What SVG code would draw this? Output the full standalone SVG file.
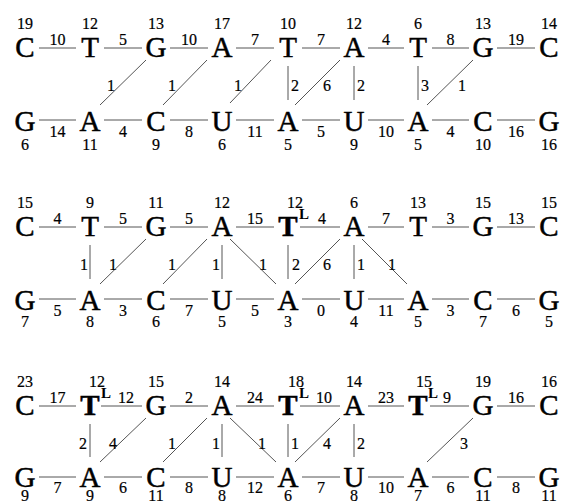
<svg xmlns="http://www.w3.org/2000/svg" width="564" height="504" viewBox="0 0 564 504">
<style>
text{font-family:"Liberation Serif","Times New Roman",serif;fill:#000;text-anchor:middle}
.b{font-size:29px;stroke:#000;stroke-width:0.5}
.bb{font-size:29px;font-weight:bold;stroke:#000;stroke-width:0.5}
.n{font-size:16px;stroke:#000;stroke-width:0.2}
.s{font-size:15px;font-weight:bold}
.e line{stroke:#555;stroke-width:1}
</style>
<rect width="564" height="504" fill="#fff"/>
<g id="p1-top">
<g id="p1-t1"><text class="n" x="25" y="29">19</text><text class="b" x="25" y="57">C</text></g>
<g id="p1-t2"><text class="n" x="90" y="29">12</text><text class="b" x="90" y="57">T</text></g>
<g id="p1-t3"><text class="n" x="156" y="29">13</text><text class="b" x="156" y="57">G</text></g>
<g id="p1-t4"><text class="n" x="222" y="29">17</text><text class="b" x="222" y="57">A</text></g>
<g id="p1-t5"><text class="n" x="288" y="29">10</text><text class="b" x="288" y="57">T</text></g>
<g id="p1-t6"><text class="n" x="354" y="29">12</text><text class="b" x="354" y="57">A</text></g>
<g id="p1-t7"><text class="n" x="418" y="29">6</text><text class="b" x="418" y="57">T</text></g>
<g id="p1-t8"><text class="n" x="483" y="29">13</text><text class="b" x="483" y="57">G</text></g>
<g id="p1-t9"><text class="n" x="549" y="29">14</text><text class="b" x="549" y="57">C</text></g>
</g>
<g id="p1-bot">
<g id="p1-b1"><text class="b" x="25" y="131">G</text><text class="n" x="25" y="150">6</text></g>
<g id="p1-b2"><text class="b" x="90" y="131">A</text><text class="n" x="90" y="150">11</text></g>
<g id="p1-b3"><text class="b" x="156" y="131">C</text><text class="n" x="156" y="150">9</text></g>
<g id="p1-b4"><text class="b" x="222" y="131">U</text><text class="n" x="222" y="150">6</text></g>
<g id="p1-b5"><text class="b" x="288" y="131">A</text><text class="n" x="288" y="150">5</text></g>
<g id="p1-b6"><text class="b" x="354" y="131">U</text><text class="n" x="354" y="150">9</text></g>
<g id="p1-b7"><text class="b" x="418" y="131">A</text><text class="n" x="418" y="150">5</text></g>
<g id="p1-b8"><text class="b" x="483" y="131">C</text><text class="n" x="483" y="150">10</text></g>
<g id="p1-b9"><text class="b" x="549" y="131">G</text><text class="n" x="549" y="150">16</text></g>
</g>
<g id="p2-top">
<g id="p2-t1"><text class="n" x="25" y="208">15</text><text class="b" x="25" y="236">C</text></g>
<g id="p2-t2"><text class="n" x="90" y="208">9</text><text class="b" x="90" y="236">T</text></g>
<g id="p2-t3"><text class="n" x="156" y="208">11</text><text class="b" x="156" y="236">G</text></g>
<g id="p2-t4"><text class="n" x="222" y="208">12</text><text class="b" x="222" y="236">A</text></g>
<g id="p2-t5"><text class="n" x="295" y="208">12</text><text class="bb" x="288" y="236">T</text><text class="s" x="304" y="219">L</text></g>
<g id="p2-t6"><text class="n" x="354" y="208">6</text><text class="b" x="354" y="236">A</text></g>
<g id="p2-t7"><text class="n" x="418" y="208">13</text><text class="b" x="418" y="236">T</text></g>
<g id="p2-t8"><text class="n" x="483" y="208">15</text><text class="b" x="483" y="236">G</text></g>
<g id="p2-t9"><text class="n" x="549" y="208">15</text><text class="b" x="549" y="236">C</text></g>
</g>
<g id="p2-bot">
<g id="p2-b1"><text class="b" x="25" y="310">G</text><text class="n" x="25" y="327">7</text></g>
<g id="p2-b2"><text class="b" x="90" y="310">A</text><text class="n" x="90" y="327">8</text></g>
<g id="p2-b3"><text class="b" x="156" y="310">C</text><text class="n" x="156" y="327">6</text></g>
<g id="p2-b4"><text class="b" x="222" y="310">U</text><text class="n" x="222" y="327">5</text></g>
<g id="p2-b5"><text class="b" x="288" y="310">A</text><text class="n" x="288" y="327">3</text></g>
<g id="p2-b6"><text class="b" x="354" y="310">U</text><text class="n" x="354" y="327">4</text></g>
<g id="p2-b7"><text class="b" x="418" y="310">A</text><text class="n" x="418" y="327">5</text></g>
<g id="p2-b8"><text class="b" x="483" y="310">C</text><text class="n" x="483" y="327">7</text></g>
<g id="p2-b9"><text class="b" x="549" y="310">G</text><text class="n" x="549" y="327">5</text></g>
</g>
<g id="p3-top">
<g id="p3-t1"><text class="n" x="25" y="387">23</text><text class="b" x="25" y="415">C</text></g>
<g id="p3-t2"><text class="n" x="97" y="387">12</text><text class="bb" x="90" y="415">T</text><text class="s" x="106" y="398">L</text></g>
<g id="p3-t3"><text class="n" x="156" y="387">15</text><text class="b" x="156" y="415">G</text></g>
<g id="p3-t4"><text class="n" x="222" y="387">14</text><text class="b" x="222" y="415">A</text></g>
<g id="p3-t5"><text class="n" x="296" y="387">18</text><text class="bb" x="288" y="415">T</text><text class="s" x="304" y="398">L</text></g>
<g id="p3-t6"><text class="n" x="354" y="387">14</text><text class="b" x="354" y="415">A</text></g>
<g id="p3-t7"><text class="n" x="424" y="387">15</text><text class="bb" x="418" y="415">T</text><text class="s" x="433" y="398">L</text></g>
<g id="p3-t8"><text class="n" x="483" y="387">19</text><text class="b" x="483" y="415">G</text></g>
<g id="p3-t9"><text class="n" x="549" y="387">16</text><text class="b" x="549" y="415">C</text></g>
</g>
<g id="p3-bot">
<g id="p3-b1"><text class="b" x="25" y="487">G</text><text class="n" x="25" y="501">9</text></g>
<g id="p3-b2"><text class="b" x="90" y="487">A</text><text class="n" x="90" y="501">9</text></g>
<g id="p3-b3"><text class="b" x="156" y="487">C</text><text class="n" x="156" y="501">11</text></g>
<g id="p3-b4"><text class="b" x="222" y="487">U</text><text class="n" x="222" y="501">8</text></g>
<g id="p3-b5"><text class="b" x="288" y="487">A</text><text class="n" x="288" y="501">6</text></g>
<g id="p3-b6"><text class="b" x="354" y="487">U</text><text class="n" x="354" y="501">8</text></g>
<g id="p3-b7"><text class="b" x="418" y="487">A</text><text class="n" x="418" y="501">7</text></g>
<g id="p3-b8"><text class="b" x="483" y="487">C</text><text class="n" x="483" y="501">11</text></g>
<g id="p3-b9"><text class="b" x="549" y="487">G</text><text class="n" x="549" y="501">11</text></g>
</g>
<g id="connectors" class="e">
<line x1="39" y1="48" x2="76" y2="48"/><line x1="104" y1="48" x2="142" y2="48"/><line x1="170" y1="48" x2="208" y2="48"/><line x1="236" y1="48" x2="274" y2="48"/><line x1="302" y1="48" x2="340" y2="48"/><line x1="368" y1="48" x2="404" y2="48"/><line x1="432" y1="48" x2="469" y2="48"/><line x1="497" y1="48" x2="535" y2="48"/>
<line x1="39" y1="120" x2="76" y2="120"/><line x1="104" y1="120" x2="142" y2="120"/><line x1="170" y1="120" x2="208" y2="120"/><line x1="236" y1="120" x2="274" y2="120"/><line x1="302" y1="120" x2="340" y2="120"/><line x1="368" y1="120" x2="404" y2="120"/><line x1="432" y1="120" x2="469" y2="120"/><line x1="497" y1="120" x2="535" y2="120"/>
<line x1="146" y1="60" x2="100" y2="105"/><line x1="207" y1="60" x2="163" y2="105"/><line x1="271" y1="60" x2="230" y2="103"/><line x1="288" y1="66" x2="288" y2="100"/><line x1="340" y1="60" x2="295" y2="105"/><line x1="354" y1="66" x2="354" y2="100"/><line x1="418" y1="66" x2="418" y2="100"/><line x1="473" y1="60" x2="427" y2="105"/>
<line x1="39" y1="227" x2="76" y2="227"/><line x1="104" y1="227" x2="142" y2="227"/><line x1="170" y1="227" x2="208" y2="227"/><line x1="236" y1="227" x2="274" y2="227"/><line x1="300" y1="227" x2="340" y2="227"/><line x1="368" y1="227" x2="404" y2="227"/><line x1="432" y1="227" x2="469" y2="227"/><line x1="497" y1="227" x2="535" y2="227"/>
<line x1="39" y1="299" x2="76" y2="299"/><line x1="104" y1="299" x2="142" y2="299"/><line x1="170" y1="299" x2="208" y2="299"/><line x1="236" y1="299" x2="274" y2="299"/><line x1="302" y1="299" x2="340" y2="299"/><line x1="368" y1="299" x2="404" y2="299"/><line x1="432" y1="299" x2="469" y2="299"/><line x1="497" y1="299" x2="535" y2="299"/>
<line x1="90" y1="245" x2="90" y2="279"/><line x1="146" y1="239" x2="100" y2="284"/><line x1="207" y1="239" x2="163" y2="284"/><line x1="222" y1="245" x2="222" y2="279"/><line x1="230" y1="239" x2="276" y2="284"/><line x1="288" y1="245" x2="288" y2="279"/><line x1="340" y1="239" x2="295" y2="284"/><line x1="354" y1="245" x2="354" y2="279"/><line x1="362" y1="239" x2="407" y2="284"/>
<line x1="39" y1="406" x2="76" y2="406"/><line x1="101" y1="406" x2="142" y2="406"/><line x1="170" y1="406" x2="208" y2="406"/><line x1="236" y1="406" x2="274" y2="406"/><line x1="300" y1="406" x2="340" y2="406"/><line x1="368" y1="406" x2="404" y2="406"/><line x1="430" y1="406" x2="469" y2="406"/><line x1="497" y1="406" x2="535" y2="406"/>
<line x1="39" y1="477" x2="76" y2="477"/><line x1="104" y1="477" x2="142" y2="477"/><line x1="170" y1="477" x2="208" y2="477"/><line x1="236" y1="477" x2="274" y2="477"/><line x1="302" y1="477" x2="340" y2="477"/><line x1="368" y1="477" x2="404" y2="477"/><line x1="432" y1="477" x2="469" y2="477"/><line x1="497" y1="477" x2="535" y2="477"/>
<line x1="90" y1="424" x2="90" y2="457"/><line x1="146" y1="418" x2="100" y2="462"/><line x1="207" y1="418" x2="163" y2="462"/><line x1="222" y1="424" x2="222" y2="457"/><line x1="230" y1="418" x2="276" y2="462"/><line x1="288" y1="424" x2="288" y2="457"/><line x1="340" y1="418" x2="295" y2="462"/><line x1="354" y1="424" x2="354" y2="457"/><line x1="473" y1="418" x2="427" y2="462"/>
<g id="labels">
<text class="n" x="57.5" y="45">10</text><text class="n" x="123" y="45">5</text><text class="n" x="189" y="45">10</text><text class="n" x="255" y="45">7</text><text class="n" x="321" y="45">7</text><text class="n" x="386" y="45">4</text><text class="n" x="450.5" y="45">8</text><text class="n" x="516" y="45">19</text>
<text class="n" x="57.5" y="137">14</text><text class="n" x="123" y="137">4</text><text class="n" x="189" y="137">8</text><text class="n" x="255" y="137">11</text><text class="n" x="321" y="137">5</text><text class="n" x="386" y="137">10</text><text class="n" x="450.5" y="137">4</text><text class="n" x="516" y="137">16</text>
<text class="n" x="111" y="91">1</text><text class="n" x="172" y="91">1</text><text class="n" x="238" y="91">1</text><text class="n" x="295" y="91">2</text><text class="n" x="327" y="91">6</text><text class="n" x="361" y="91">2</text><text class="n" x="425" y="91">3</text><text class="n" x="462" y="91">1</text>
<text class="n" x="57.5" y="224">4</text><text class="n" x="123" y="224">5</text><text class="n" x="189" y="224">5</text><text class="n" x="255" y="224">15</text><text class="n" x="322" y="224">4</text><text class="n" x="386" y="224">7</text><text class="n" x="450.5" y="224">3</text><text class="n" x="516" y="224">13</text>
<text class="n" x="57.5" y="316">5</text><text class="n" x="123" y="316">3</text><text class="n" x="189" y="316">7</text><text class="n" x="255" y="316">5</text><text class="n" x="321" y="316">0</text><text class="n" x="386" y="316">11</text><text class="n" x="450.5" y="316">3</text><text class="n" x="516" y="316">6</text>
<text class="n" x="84" y="270">1</text><text class="n" x="113" y="270">1</text><text class="n" x="172" y="270">1</text><text class="n" x="216" y="270">1</text><text class="n" x="263" y="270">1</text><text class="n" x="296" y="270">2</text><text class="n" x="327" y="270">6</text><text class="n" x="361" y="270">1</text><text class="n" x="392" y="270">1</text>
<text class="n" x="57.5" y="403">17</text><text class="n" x="126" y="403">12</text><text class="n" x="189" y="403">2</text><text class="n" x="255" y="403">24</text><text class="n" x="324" y="403">10</text><text class="n" x="386" y="403">23</text><text class="n" x="447" y="403">9</text><text class="n" x="516" y="403">16</text>
<text class="n" x="57.5" y="493">7</text><text class="n" x="123" y="493">6</text><text class="n" x="189" y="493">8</text><text class="n" x="255" y="493">12</text><text class="n" x="321" y="493">7</text><text class="n" x="386" y="493">10</text><text class="n" x="450.5" y="493">6</text><text class="n" x="516" y="493">8</text>
<text class="n" x="83" y="449">2</text><text class="n" x="113" y="449">4</text><text class="n" x="172" y="449">1</text><text class="n" x="216" y="449">1</text><text class="n" x="262" y="449">1</text><text class="n" x="295" y="449">1</text><text class="n" x="327" y="449">4</text><text class="n" x="361" y="449">2</text><text class="n" x="464" y="449">3</text>
</g>
</g>
</svg>
